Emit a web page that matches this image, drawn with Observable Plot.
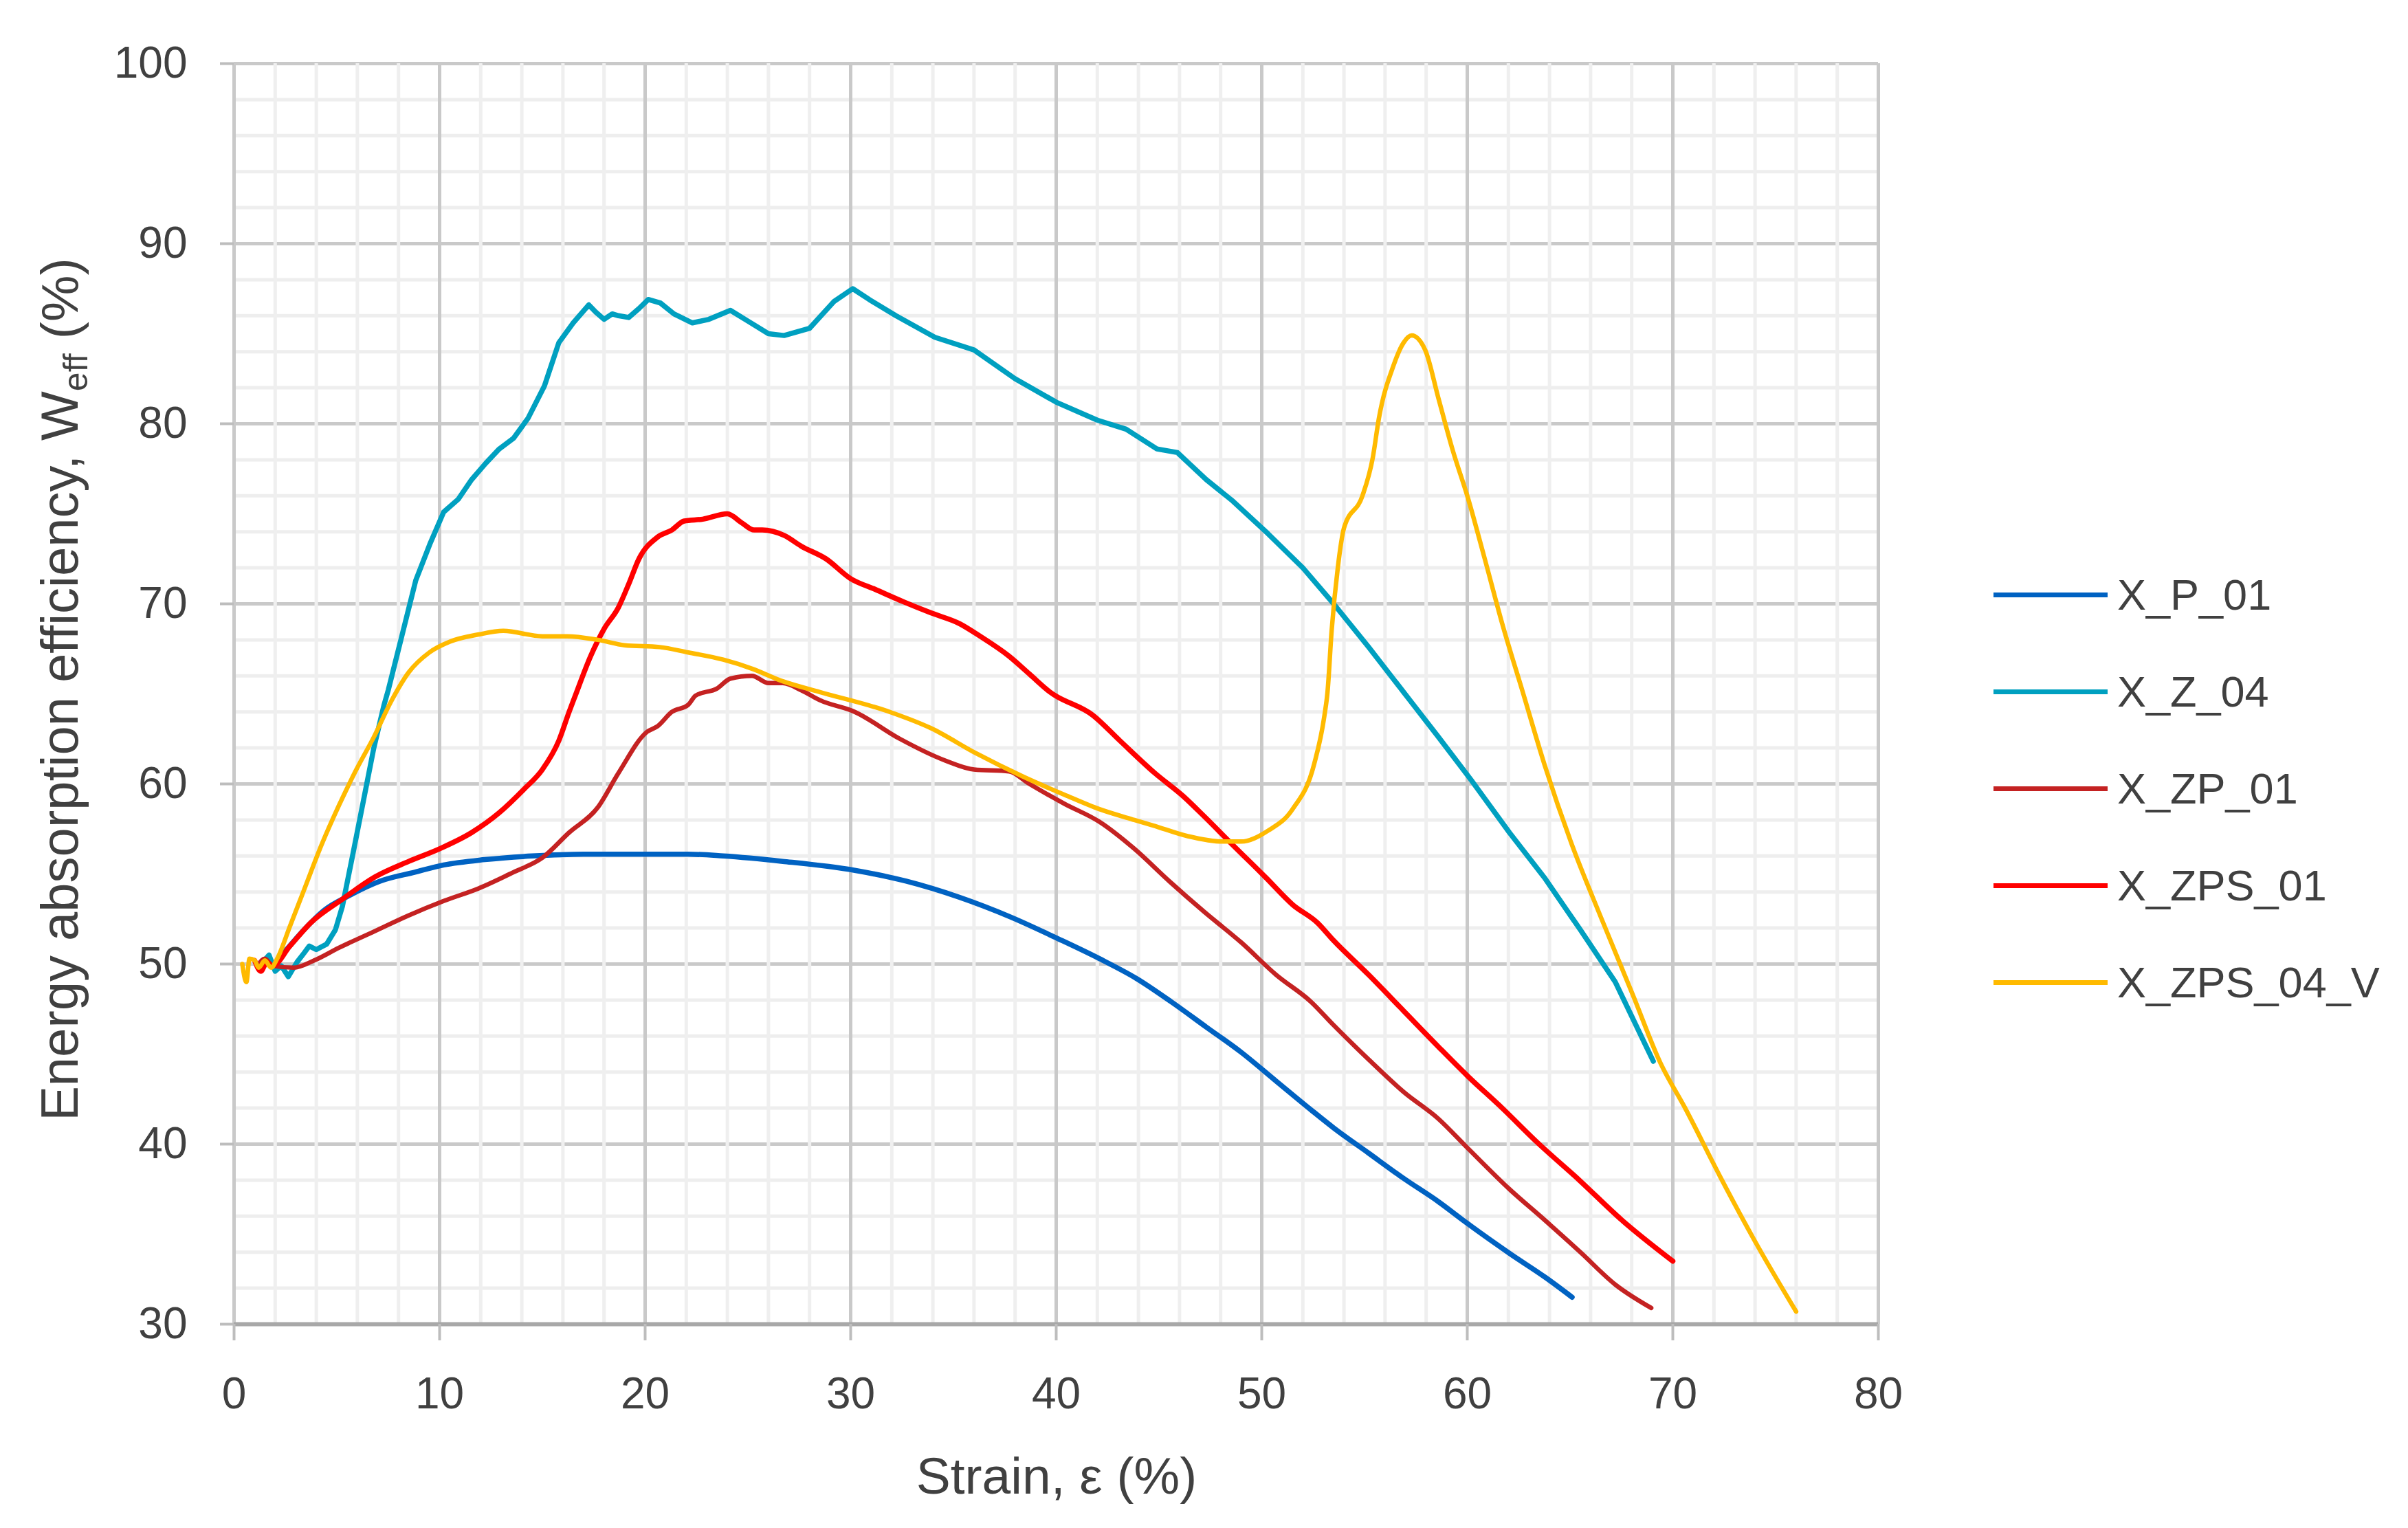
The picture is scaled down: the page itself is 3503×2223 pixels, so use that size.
<!DOCTYPE html>
<html>
<head>
<meta charset="utf-8">
<script src="https://cdn.jsdelivr.net/npm/d3@7"></script>
<script src="https://cdn.jsdelivr.net/npm/@observablehq/plot@0.6"></script>
<style>
  html, body { margin: 0; padding: 0; background: #ffffff; }
  #wrap { position: relative; width: 3503px; height: 2223px; background: #ffffff; font-family: "Liberation Sans", Arial, sans-serif; }
  #legend { position: absolute; left: 2900px; top: 0; }
  .row { position: absolute; left: 0; height: 80px; display: flex; align-items: center; white-space: nowrap; }
  .sw { width: 166px; height: 7px; }
  .lab { margin-left: 14px; font-size: 63px; line-height: 80px; color: #404040; }
</style>
</head>
<body>
<div id="wrap"><div id="legend"></div></div>
<script>
// ---- tick values ----
const xTicks = [0, 10, 20, 30, 40, 50, 60, 70, 80];
const yTicks = [30, 40, 50, 60, 70, 80, 90, 100];
const xMinor = [0,2,4,6,8,10,12,14,16,18,20,22,24,26,28,30,32,34,36,38,40,42,44,46,48,50,52,54,56,58,60,62,64,66,68,70,72,74,76,78,80];
const yMinor = [30,32,34,36,38,40,42,44,46,48,50,52,54,56,58,60,62,64,66,68,70,72,74,76,78,80,82,84,86,88,90,92,94,96,98,100];

// ---- series names ----
const seriesNames = ["X_P_01", "X_Z_04", "X_ZP_01", "X_ZPS_01", "X_ZPS_04_V"];

// ---- X_P_01 ----
const pX = [1.6, 1.87, 2.55, 3.4, 4.4, 5.6, 7.1, 8.8, 10.2, 12.2, 14.5, 17.0, 19.9, 22.1, 23.8, 26.7, 30.2, 32.7, 35.3, 37.8, 40.1, 42.1, 43.9, 45.6, 47.3, 49.0, 50.7, 52.4, 53.5, 55.2, 56.9, 58.6, 60.0, 62.1, 63.8, 65.1];
const pY = [50.1, 49.9, 50.8, 51.9, 53.0, 53.8, 54.6, 55.1, 55.5, 55.8, 56.0, 56.1, 56.1, 56.1, 56.0, 55.7, 55.2, 54.6, 53.7, 52.6, 51.4, 50.3, 49.2, 47.9, 46.5, 45.1, 43.5, 41.9, 40.9, 39.5, 38.1, 36.8, 35.6, 33.9, 32.6, 31.5];

// ---- X_Z_04 ----
const zX = [1.4, 1.7, 2.0, 2.3, 2.64, 3.06, 3.4, 3.66, 4.0, 4.5, 4.93, 5.27, 5.78, 6.3, 6.8, 7.3, 7.5, 8.16, 8.84, 9.52, 10.2, 10.9, 11.56, 12.24, 12.9, 13.6, 14.3, 15.1, 15.8, 16.5, 17.26, 17.6, 18.0, 18.4, 18.7, 19.2, 19.7, 20.15, 20.75, 21.4, 22.3, 23.1, 24.15, 25.0, 26.0, 26.76, 28.0, 29.2, 30.1, 30.9, 32.2, 34.1, 36.0, 38.0, 40.0, 42.0, 43.4, 44.9, 45.9, 47.3, 48.6, 50.3, 52.0, 53.5, 55.2, 56.9, 58.6, 60.2, 62.05, 63.75, 65.5, 67.2, 69.05];
const zY = [50.1, 50.5, 49.6, 49.9, 49.3, 50.1, 50.6, 51.0, 50.8, 51.1, 51.9, 53.2, 56.1, 59.1, 62.0, 64.4, 65.2, 68.2, 71.3, 73.3, 75.1, 75.8, 76.9, 77.8, 78.6, 79.2, 80.3, 82.1, 84.5, 85.6, 86.6, 86.2, 85.8, 86.1, 86.0, 85.9, 86.4, 86.9, 86.7, 86.1, 85.6, 85.8, 86.3, 85.7, 85.0, 84.9, 85.3, 86.8, 87.5, 86.9, 86.0, 84.8, 84.1, 82.5, 81.2, 80.2, 79.7, 78.6, 78.4, 76.9, 75.7, 73.9, 72.0, 70.0, 67.6, 65.1, 62.6, 60.2, 57.3, 54.8, 51.9, 49.0, 44.6];

// ---- X_ZP_01 ----
const zpX = [1.2, 1.5, 1.87, 2.9, 3.9, 5.1, 6.8, 8.5, 10.2, 11.9, 13.6, 15.0, 16.3, 17.7, 18.7, 20.1, 20.6, 21.3, 22.1, 22.45, 23.5, 24.15, 25.2, 26.0, 26.7, 27.6, 28.5, 30.2, 32.4, 34.6, 36.0, 37.7, 38.7, 40.4, 42.1, 43.8, 45.5, 47.2, 49.0, 50.7, 52.4, 53.5, 55.2, 56.9, 58.6, 60.0, 62.05, 63.75, 65.5, 67.2, 68.95];
const zpY = [50.0, 50.3, 49.9, 49.8, 50.2, 50.9, 51.8, 52.7, 53.5, 54.2, 55.1, 55.9, 57.3, 58.7, 60.6, 62.9, 63.2, 64.0, 64.4, 64.9, 65.3, 65.85, 66.0, 65.6, 65.6, 65.2, 64.65, 64.0, 62.5, 61.3, 60.8, 60.7, 60.0, 58.9, 57.9, 56.4, 54.6, 52.9, 51.2, 49.4, 47.9, 46.6, 44.7, 42.9, 41.4, 39.8, 37.5, 35.8, 34.0, 32.2, 30.9];

// ---- X_ZPS_01 ----
const zpsX = [1.0, 1.3, 1.6, 1.87, 2.72, 3.74, 5.27, 6.8, 8.5, 10.0, 11.56, 12.9, 14.1, 15.0, 15.8, 16.3, 16.6, 17.35, 18.0, 18.7, 19.2, 19.7, 20.6, 21.3, 21.9, 22.8, 24.0, 24.7, 25.3, 25.7, 26.76, 27.6, 28.8, 30.0, 31.2, 32.6, 33.9, 35.3, 36.3, 37.7, 38.7, 39.7, 41.8, 43.1, 44.8, 46.2, 47.2, 48.6, 50.2, 51.5, 52.7, 53.5, 55.2, 56.9, 58.6, 60.0, 61.7, 63.4, 65.45, 67.5, 70.0];
const zpsY = [50.2, 49.6, 50.1, 49.9, 51.0, 52.3, 53.6, 54.8, 55.7, 56.4, 57.3, 58.4, 59.7, 60.8, 62.4, 64.0, 64.9, 67.1, 68.6, 69.8, 71.1, 72.5, 73.7, 74.1, 74.6, 74.7, 75.0, 74.5, 74.1, 74.1, 73.8, 73.2, 72.5, 71.4, 70.8, 70.1, 69.5, 68.9, 68.2, 67.1, 66.1, 65.1, 63.8, 62.4, 60.6, 59.3, 58.2, 56.6, 54.8, 53.3, 52.3, 51.3, 49.4, 47.4, 45.4, 43.8, 42.0, 40.1, 38.0, 35.8, 33.5];

// ---- X_ZPS_04_V ----
const vX = [0.4, 0.6, 0.75, 1.0, 1.2, 1.5, 1.8, 2.1, 2.72, 3.4, 4.25, 5.1, 5.95, 6.8, 7.65, 8.5, 9.5, 10.5, 11.9, 13.1, 15.0, 16.2, 17.7, 19.0, 20.7, 22.1, 23.8, 25.2, 26.7, 28.5, 31.9, 33.9, 36.1, 38.4, 40.4, 42.1, 43.8, 44.7, 46.4, 48.1, 49.0, 50.3, 51.5, 52.55, 53.05, 53.2, 53.4, 53.7, 54.0, 54.9, 55.4, 55.7, 56.4, 56.9, 57.3, 57.95, 58.6, 59.3, 60.0, 60.85, 61.7, 62.7, 63.75, 65.1, 66.5, 68.05, 69.4, 70.6, 72.3, 74.0, 76.0];
const vY = [50.0, 49.0, 50.3, 50.2, 49.8, 50.2, 49.8, 50.3, 52.1, 54.1, 56.6, 58.8, 60.8, 62.6, 64.6, 66.2, 67.3, 67.9, 68.3, 68.5, 68.2, 68.2, 68.0, 67.7, 67.6, 67.3, 66.9, 66.4, 65.7, 65.1, 64.0, 63.1, 61.7, 60.4, 59.4, 58.6, 58.0, 57.7, 57.1, 56.8, 56.8, 57.4, 58.6, 61.1, 63.8, 65.1, 68.5, 72.0, 74.2, 76.0, 78.1, 80.3, 83.2, 84.5, 84.9, 84.1, 81.4, 78.5, 76.0, 72.5, 68.9, 65.1, 61.1, 56.6, 52.6, 48.3, 44.5, 42.0, 38.2, 34.6, 30.7];

const seriesX = [pX, zX, zpX, zpsX, vX];
const seriesY = [pY, zY, zpY, zpsY, vY];
const colors = ["#0062c2", "#00a0c0", "#c42222", "#ff0000", "#ffba00"];
const widths = [7.5, 7.5, 6.5, 7.5, 6.5];
const curves = ["monotone-x", "linear", "monotone-x", "monotone-x", "monotone-x"];

const data = seriesNames.map((name, i) => seriesX[i].map((x, j) => ({series: name, x, y: seriesY[i][j]})));

const lineMarks = data.map((rows, i) =>
  Plot.line(rows, {x: "x", y: "y", stroke: colors[i], strokeWidth: widths[i], curve: curves[i], strokeLinejoin: "round", strokeLinecap: "round"})
);

const chart = Plot.plot({
  width: 3503,
  height: 2223,
  marginLeft: 340,
  marginRight: 771,
  marginTop: 92,
  marginBottom: 297,
  x: {domain: [0, 80]},
  y: {domain: [30, 100]},
  style: {fontFamily: "'Liberation Sans', Arial, sans-serif", fontSize: "64px", color: "#404040", background: "#ffffff"},
  marks: [
    Plot.ruleY(yMinor, {stroke: "#eeeeee", strokeWidth: 5}),
    Plot.ruleY(yTicks, {stroke: "#c9c9c9", strokeWidth: 5}),
    Plot.ruleX(xMinor, {stroke: "#efefef", strokeWidth: 5}),
    Plot.ruleX(xTicks, {stroke: "#c9c9c9", strokeWidth: 5}),
    Plot.ruleY([30], {stroke: "#a8a8a8", strokeWidth: 6}),
    Plot.axisX({ticks: xTicks, tickSize: 24, tickPadding: 53, stroke: "#bdbdbd", strokeWidth: 4, color: "#404040", fontSize: 64, label: null}),
    Plot.axisY({ticks: yTicks, tickSize: 20, tickPadding: 48, stroke: "#bdbdbd", strokeWidth: 4, color: "#404040", fontSize: 64, label: null}),
    ...lineMarks
  ]
});

document.getElementById("wrap").prepend(chart);

// axis titles
const svg = d3.select(chart);
svg.append("text")
  .attr("x", 1537).attr("y", 2173)
  .attr("text-anchor", "middle")
  .attr("font-size", 75).attr("fill", "#404040")
  .attr("font-family", "'Liberation Sans', Arial, sans-serif")
  .text("Strain, ε (%)");

const yt = svg.append("text")
  .attr("transform", "translate(113,1003) rotate(-90)")
  .attr("text-anchor", "middle")
  .attr("font-size", 76).attr("fill", "#404040")
  .attr("font-family", "'Liberation Sans', Arial, sans-serif");
yt.append("tspan").text("Energy absorption efficiency, W");
yt.append("tspan").attr("font-size", 50).attr("dy", 14).text("eff");
yt.append("tspan").attr("dy", -14).text(" (%)");

// legend
const legend = document.getElementById("legend");
seriesNames.forEach((name, i) => {
  const row = document.createElement("div");
  row.className = "row";
  row.style.top = (865 + i * 141 - 40) + "px";
  const sw = document.createElement("div");
  sw.className = "sw";
  sw.style.background = colors[i];
  const lab = document.createElement("span");
  lab.className = "lab";
  lab.textContent = name;
  row.appendChild(sw);
  row.appendChild(lab);
  legend.appendChild(row);
});
</script>
</body>
</html>
